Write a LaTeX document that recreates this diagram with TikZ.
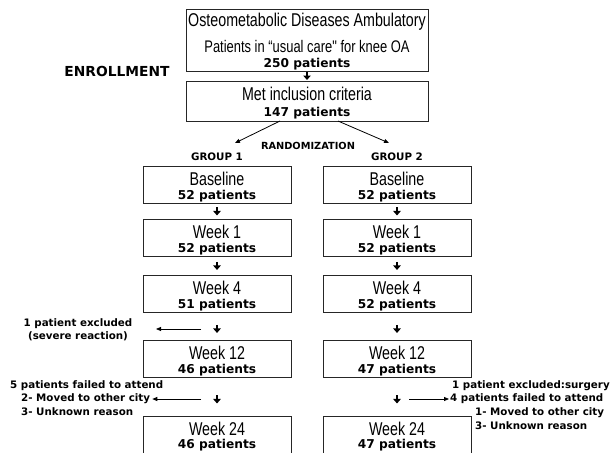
\documentclass[tikz,border=0pt]{standalone}
\usepackage{fontspec}
\usetikzlibrary{arrows.meta,calc}
\newfontfamily\narrowfont[FakeStretch=0.77]{Liberation Sans}
\newfontfamily\vfont{DejaVu Sans}
\begin{document}
\begin{tikzpicture}[x=1pt,y=-1pt,
  box/.style={draw=black!85, line width=0.9pt, minimum width=148pt, minimum height=37pt, inner sep=0pt, anchor=north},
  ttl/.style={inner sep=0pt, font=\narrowfont\fontsize{18.5}{21}\selectfont},
  ttlsmall/.style={inner sep=0pt, font=\narrowfont\fontsize{16.8}{19}\selectfont},
  num/.style={inner sep=0pt, font=\vfont\bfseries\fontsize{12.2}{14}\selectfont},
  note/.style={inner sep=0pt, font=\vfont\bfseries\fontsize{10.3}{13}\selectfont},
  grp/.style={inner sep=0pt, font=\vfont\bfseries\fontsize{10.3}{12}\selectfont},
  stub/.style={line width=2.2pt, -{Triangle[width=7.5pt,length=4.5pt]}},
  thinarrow/.style={line width=0.8pt, -{Triangle[width=4pt,length=5pt]}}
]
\useasboundingbox (0,0) rectangle (612,452);
\clip (0,0) rectangle (612,452);

% enrollment
\node[box, minimum width=242pt, minimum height=62pt] (top) at (307,9) {};
\node[ttl] (topa) at (307,21.5) {Osteometabolic Diseases Ambulatory};
\node[ttlsmall] (topb) at (307,46) {Patients in “usual care" for knee OA};
\node[num] (topc) at (307,64.5) {250 patients};
\node[box, minimum width=242pt, minimum height=40pt] (incl) at (307,81) {};
\node[ttl] (incla) at (307,94) {Met inclusion criteria};
\node[num] (inclb) at (307,113) {147 patients};
\node[inner sep=0pt, font=\vfont\bfseries\fontsize{13.8}{16}\selectfont] (enr) at (117,71) {ENROLLMENT};
\draw[stub] (top.south) -- (incl.south |- 0,80);

% randomization
\coordinate (r1s) at (280,121);
\coordinate (r1e) at (235,143);
\coordinate (r2s) at (338,121);
\coordinate (r2e) at (389,143);
\draw[thinarrow] (r1s) -- (r1e);
\draw[thinarrow] (r2s) -- (r2e);
\node[inner sep=0pt, font=\vfont\bfseries\fontsize{9.8}{12}\selectfont] (rand) at (308,146) {RANDOMIZATION};
\node[grp] (g1) at (217,157) {GROUP 1};
\node[grp] (g2) at (397,157) {GROUP 2};

% group 1 boxes
\node[box] (a0) at (217,166) {};
\node[box] (a1) at (217,219) {};
\node[box] (a2) at (217,275) {};
\node[box] (a3) at (217,340) {};
\node[box, minimum height=45pt] (a4) at (217,416) {};
% group 2 boxes
\node[box] (b0) at (397,166) {};
\node[box] (b1) at (397,219) {};
\node[box] (b2) at (397,275) {};
\node[box] (b3) at (397,340) {};
\node[box, minimum height=45pt] (b4) at (397,416) {};

\foreach \c/\t/\n/\d in {a0/Baseline/52/30.5, a1/Week 1/52/30.5, a2/Week 4/51/30.5, a3/Week 12/46/30.5, a4/Week 24/46/29,
                      b0/Baseline/52/30.5, b1/Week 1/52/30.5, b2/Week 4/52/30.5, b3/Week 12/47/30.5, b4/Week 24/47/29}{
  \node[ttl] (\c t) at ([yshift=-13pt]\c.north) {\t};
  \node[num] (\c n) at ([yshift=-\d pt]\c.north) {\n\ patients};
}

% stub arrows between boxes
\foreach \u/\l/\s in {a0/a1/0, a1/a2/0, a2/a3/2.5, a3/a4/2.5, b0/b1/0, b1/b2/0, b2/b3/2.5, b3/b4/2.5}{
  \coordinate (m\u) at ($(\u.south)!0.5!(\l.north)$);
  \draw[stub] ([yshift=4pt-\s pt]m\u) -- ([yshift=-4pt-\s pt]m\u);
}

% left annotations
\node[note, align=center] (ex1) at (78,330) {1 patient excluded\\(severe reaction)};
\coordinate (ex1s) at (201,329);
\coordinate (ex1e) at (156,329);
\draw[thinarrow] (ex1s) -- (ex1e);

\node[note, anchor=west] (f1) at (10,386) {5 patients failed to attend};
\node[note, anchor=west] (f2) at (21,399) {2- Moved to other city};
\node[note, anchor=west] (f3) at (21,412) {3- Unknown reason};
\coordinate (f2s) at (201,399);
\draw[thinarrow] (f2s) -- ([xshift=2pt]f2.east);

% right annotations
\node[note, anchor=west] (s1) at (452,386) {1 patient excluded:surgery};
\node[note, anchor=west] (s2) at (450,399) {4 patients failed to attend};
\node[note, anchor=west] (s3) at (475,413) {1- Moved to other city};
\node[note, anchor=west] (s4) at (475,426) {3- Unknown reason};
\coordinate (s2s) at (409,399);
\draw[thinarrow] (s2s) -- ([xshift=-1pt]s2.west);
\end{tikzpicture}
\end{document}
